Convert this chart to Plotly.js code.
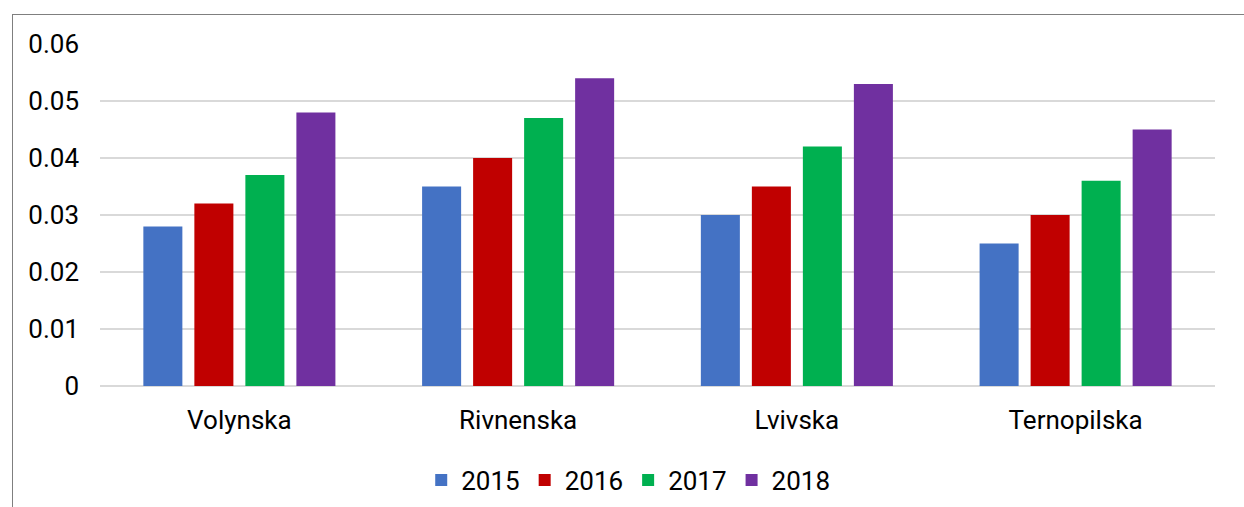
<!DOCTYPE html>
<html><head><meta charset="utf-8">
<script src="https://cdn.plot.ly/plotly-3.0.1.min.js"></script>
<style>
html,body{margin:0;padding:0;background:#fff;overflow:hidden;}
#wrap{position:relative;width:1244px;height:507px;}
#chart{position:absolute;left:0;top:0;width:1244px;height:507px;}
#frame{position:absolute;left:12px;top:14px;width:1400px;height:700px;border:1.5px solid #7f7f7f;box-sizing:border-box;pointer-events:none;}
</style></head>
<body><div id="wrap"><div id="chart"></div><div id="frame"></div></div>
<script>
const categories = ["Volynska", "Rivnenska", "Lvivska", "Ternopilska"];
const years = ["2015", "2016", "2017", "2018"];
const v2015 = [0.028, 0.035, 0.030, 0.025];
const v2016 = [0.032, 0.040, 0.035, 0.030];
const v2017 = [0.037, 0.047, 0.042, 0.036];
const v2018 = [0.048, 0.054, 0.053, 0.045];
const colors = ["#4472C4", "#C00000", "#00B050", "#7030A0"];
const series = [v2015, v2016, v2017, v2018];
const tickVals = [0, 0.01, 0.02, 0.03, 0.04, 0.05, 0.06];
const tickText = ["0", "0.01", "0.02", "0.03", "0.04", "0.05", "0.06"];

const data = series.map((vals, i) => ({
  type: "bar", name: years[i], x: categories, y: vals,
  marker: {color: colors[i]}, hoverinfo: "x+y+name"
}));

const layout = {
  width: 1244, height: 507,
  margin: {l: 100, r: 29, t: 44, b: 121, autoexpand: false},
  paper_bgcolor: "rgba(0,0,0,0)", plot_bgcolor: "rgba(0,0,0,0)",
  font: {family: "Roboto, sans-serif", size: 26, color: "#000"},
  barmode: "group", bargap: 0.268, bargroupgap: 0.235,
  xaxis: {automargin: false, showgrid: false, showline: false, zeroline: false, ticks: "", ticklabelstandoff: 16, tickfont: {size: 26}},
  yaxis: {automargin: false, range: [0, 0.06], tickvals: tickVals, ticktext: tickText, showgrid: true, gridcolor: "#d9d9d9", gridwidth: 1.5,
          zeroline: true, zerolinecolor: "#d9d9d9", zerolinewidth: 2, showline: false, ticks: "", ticklabelstandoff: 20, tickfont: {size: 26}},
  showlegend: true,
  legend: {orientation: "h", xref: "container", yref: "container", x: 0.505, xanchor: "center", y: 0.053, yanchor: "middle", font: {size: 26}, itemwidth: 20, tracegroupgap: 0}
};
Plotly.newPlot("chart", data, layout, {displayModeBar: false, staticPlot: true});
</script></body></html>
